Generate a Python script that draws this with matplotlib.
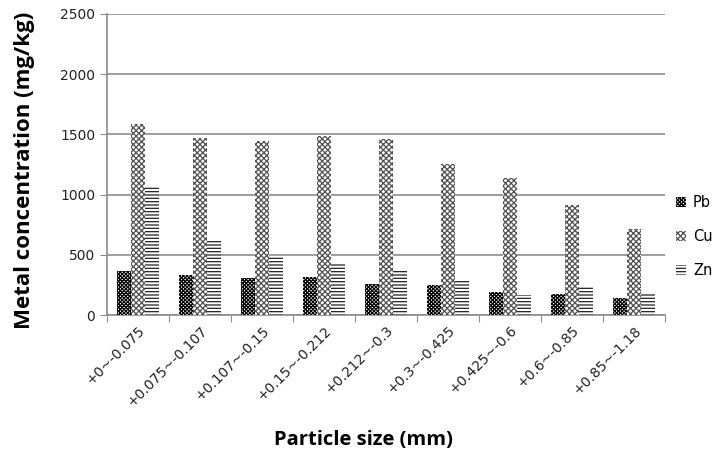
import numpy as np
import matplotlib
matplotlib.use("Agg")
import matplotlib.pyplot as plt

plt.rcParams['hatch.linewidth'] = 0.9

# particle size classes (mm)
sizes = ['+0~-0.075', '+0.075~-0.107', '+0.107~-0.15', '+0.15~-0.212',
         '+0.212~-0.3', '+0.3~-0.425', '+0.425~-0.6', '+0.6~-0.85',
         '+0.85~-1.18']

# metal concentration (mg/kg)
pb = [365, 333, 306, 317, 256, 247, 194, 172, 139]
cu = [1583, 1467, 1442, 1483, 1458, 1250, 1139, 917, 714]
zn = [1071, 611, 483, 422, 378, 283, 164, 242, 178]

fig = plt.figure(figsize=(7.13, 4.62), dpi=100)
ax = fig.add_axes([0.150, 0.318, 0.783, 0.652])

x = np.arange(len(sizes))
w = 0.226
ax.bar(x - w, pb, w, color='white', edgecolor='#000000', hatch='x' * 9,
       linewidth=0, label='Pb', zorder=3)
ax.bar(x, cu, w, color='white', edgecolor='#505050', hatch='x' * 6,
       linewidth=0, label='Cu', zorder=3)
ax.bar(x + w, zn, w, color='white', edgecolor='#222222', hatch='-' * 5,
       linewidth=0, label='Zn', zorder=3)

ax.set_xlim(-0.5, len(sizes) - 0.5)
ax.set_ylim(0, 2500)
ax.set_yticks([0, 500, 1000, 1500, 2000, 2500])
ax.yaxis.grid(True, color='#8c8c8c', linewidth=1.2, zorder=0)
ax.set_axisbelow(True)

ax.set_xticks(np.arange(len(sizes) + 1) - 0.5)
ax.set_xticklabels([])
ax.set_xticks(x, minor=True)
ax.set_xticklabels(sizes, minor=True, rotation=45, ha='right',
                   rotation_mode='anchor', fontsize=10, color='#222222')
ax.tick_params(axis='x', which='minor', length=0, pad=6)
ax.tick_params(axis='x', which='major', length=5, color='#8c8c8c')
ax.tick_params(axis='y', length=5, color='#8c8c8c', labelsize=10,
               labelcolor='#222222')

for s in ['top', 'right']:
    ax.spines[s].set_visible(False)
for s in ['left', 'bottom']:
    ax.spines[s].set_color('#8c8c8c')
    ax.spines[s].set_linewidth(1.2)

ax.set_ylabel('Metal concentration (mg/kg)', fontsize=16, fontweight='bold',
              family='Open Sans')
ax.yaxis.set_label_coords(-0.128, 0.48)
ax.set_xlabel('Particle size (mm)', fontsize=14.5, fontweight='bold',
              family='Open Sans')
ax.xaxis.set_label_coords(0.46, -0.38)

ax.legend(loc='center left', bbox_to_anchor=(0.995, 0.26), frameon=False,
          handlelength=0.7, handleheight=0.7, handletextpad=0.5,
          labelspacing=1.3, fontsize=10.5)

fig.savefig('out.png', dpi=100)
